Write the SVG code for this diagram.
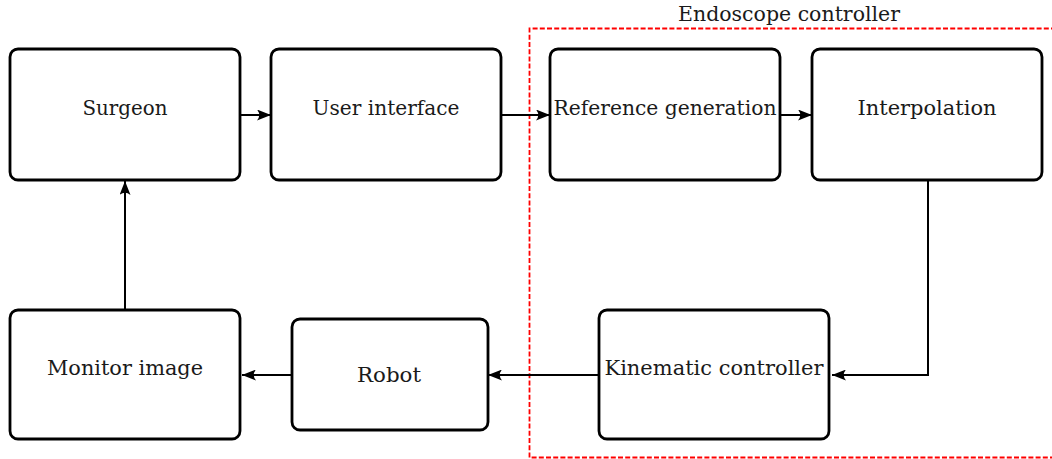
<svg xmlns="http://www.w3.org/2000/svg" width="1052" height="459" viewBox="0 0 1052 459">
  <style>
    .box { fill: #ffffff; stroke: #000000; stroke-width: 2.8; }
    .lbl { font-family: "DejaVu Serif", "Liberation Serif", serif; font-size: 21px; fill: #1a1a1a; text-anchor: middle; }
    .wire { fill: none; stroke: #000000; stroke-width: 2; marker-end: url(#tip); }
    .group { fill: none; stroke: #ff0000; stroke-width: 1.8; stroke-dasharray: 5 2.2; }
  </style>
  <defs>
    <marker id="tip" viewBox="0 0 14 11" refX="14" refY="5.5" markerWidth="14" markerHeight="11" markerUnits="userSpaceOnUse" orient="auto">
      <path d="M0,0 L14,5.5 L0,11 Q4.5,5.5 0,0 Z" fill="#000000"/>
    </marker>
  </defs>

  <rect width="1052" height="459" fill="#ffffff"/>

  <!-- endoscope controller boundary -->
  <g id="endoscope-controller">
    <path class="group" d="M1056,28.5 H529.5 V457.5 H1056"/>
    <text class="lbl" x="789" y="21" textLength="222" lengthAdjust="spacingAndGlyphs">Endoscope controller</text>
  </g>

  <!-- connectors -->
  <g id="connectors">
    <path class="wire" d="M240,115 H271"/>
    <path class="wire" d="M501,115 H550"/>
    <path class="wire" d="M780,115 H812"/>
    <path class="wire" d="M928,180 V375 H832"/>
    <path class="wire" d="M599,375 H488"/>
    <path class="wire" d="M292,375 H242"/>
    <path class="wire" d="M125,310 V181"/>
  </g>

  <g id="surgeon">
    <rect class="box" x="10" y="49" width="230" height="131" rx="8"/>
    <text class="lbl" x="125" y="115" textLength="85" lengthAdjust="spacingAndGlyphs">Surgeon</text>
  </g>
  <g id="user-interface">
    <rect class="box" x="271" y="49" width="230" height="131" rx="8"/>
    <text class="lbl" x="386" y="115" textLength="147" lengthAdjust="spacingAndGlyphs">User interface</text>
  </g>
  <g id="reference-generation">
    <rect class="box" x="550" y="49" width="230" height="131" rx="8"/>
    <text class="lbl" x="665" y="115" textLength="223" lengthAdjust="spacingAndGlyphs">Reference generation</text>
  </g>
  <g id="interpolation">
    <rect class="box" x="812" y="49" width="230" height="131" rx="8"/>
    <text class="lbl" x="927" y="115" textLength="139" lengthAdjust="spacingAndGlyphs">Interpolation</text>
  </g>
  <g id="monitor-image">
    <rect class="box" x="10" y="310" width="230" height="129" rx="8"/>
    <text class="lbl" x="125" y="375" textLength="156" lengthAdjust="spacingAndGlyphs">Monitor image</text>
  </g>
  <g id="robot">
    <rect class="box" x="292" y="319" width="196" height="111" rx="8"/>
    <text class="lbl" x="389" y="382" textLength="64" lengthAdjust="spacingAndGlyphs">Robot</text>
  </g>
  <g id="kinematic-controller">
    <rect class="box" x="599" y="310" width="230" height="129" rx="8"/>
    <text class="lbl" x="714" y="375" textLength="219" lengthAdjust="spacingAndGlyphs">Kinematic controller</text>
  </g>
</svg>
